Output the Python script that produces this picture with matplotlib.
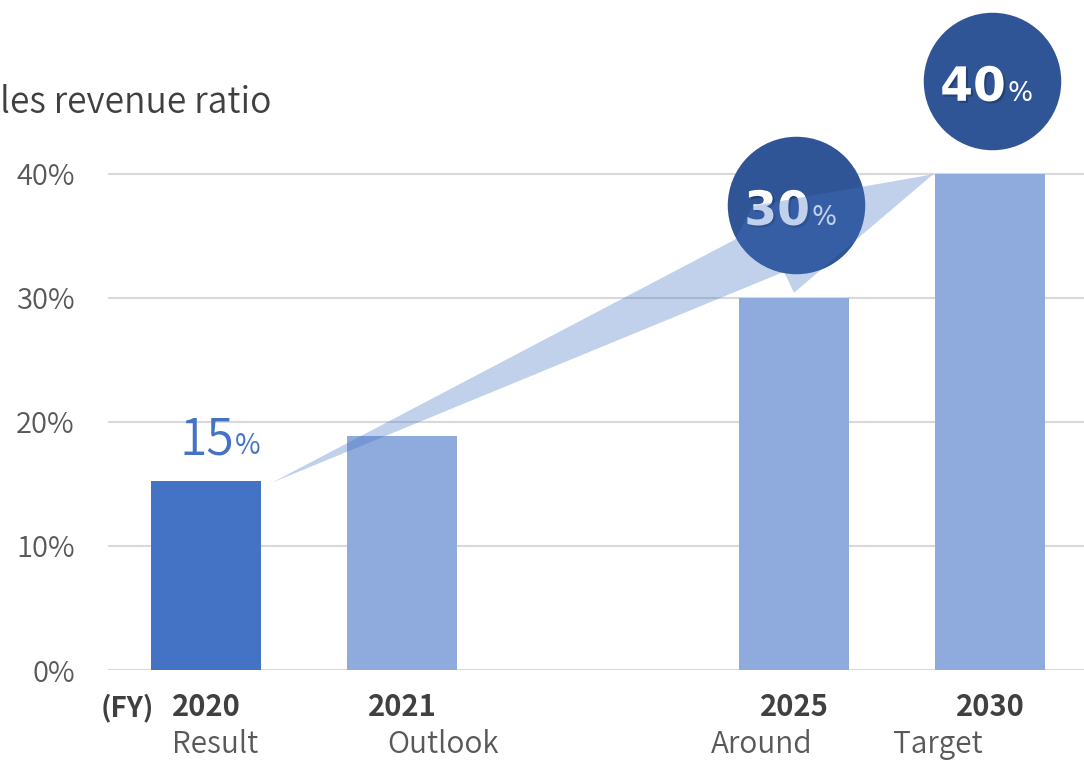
import numpy as np
import matplotlib
matplotlib.use('Agg')
import matplotlib.pyplot as plt
import matplotlib.patheffects as pe
from matplotlib.patches import Polygon

plt.rcParams['font.family'] = ['Noto Sans CJK JP', 'DejaVu Sans']

# data
years = ['2020', '2021', '2025', '2030']
stages = ['Result', 'Outlook', 'Around', 'Target']
ratio = [15.2, 18.9, 30.0, 40.0]
yticks = [0, 10, 20, 30, 40]

# layout (2022-2024 slot left empty)
slots = [0, 1, 3, 4]
bar_w = 0.56
bar_colors = ['#4472C4', '#8FAADC', '#8FAADC', '#8FAADC']
stage_dx = [6.5, 29.5, -23, -37.5]   # points, sub label shift
grey = '#595959'
dark = '#2F5597'
thin = 350

fig = plt.figure(figsize=(10.84, 7.61), dpi=100)
ax = fig.add_axes([108 / 1084, 91 / 761, 976 / 1084, 670 / 761])

ax.bar(slots, ratio, width=bar_w, color=bar_colors, zorder=2)

ax.set_xlim(-0.5, 4.48)
ax.set_ylim(0, 54.0)
ax.set_yticks(yticks)
ax.set_yticklabels([f'{t}%' for t in yticks], fontsize=21, color=grey, fontweight=thin)
ax.tick_params(axis='y', length=0, pad=24)
ax.set_xticks([])
ax.yaxis.grid(True, color='#D9D9D9', lw=1.5, zorder=0)
for s in ax.spines.values():
    s.set_visible(False)

# category labels under the axis
for i, x in enumerate(slots):
    ax.annotate(years[i], xy=(x, 0), xycoords=('data', 'axes fraction'),
                xytext=(0, -27), textcoords='offset points', ha='center', va='center',
                fontsize=21, fontweight='bold', color='#404040')
    ax.annotate(stages[i], xy=(x, 0), xycoords=('data', 'axes fraction'),
                xytext=(stage_dx[i], -64.5), textcoords='offset points', ha='center', va='bottom',
                fontsize=21.5, color=grey, fontweight=thin)
ax.annotate('(FY)', xy=(slots[0], 0), xycoords=('data', 'axes fraction'),
            xytext=(-57, -27), textcoords='offset points', ha='center', va='center',
            fontsize=20, fontweight='bold', color='#404040')

fig.text(0.0, 1 - 113 / 761, 'les revenue ratio', fontsize=25.5, color='#404040',
         va='baseline', ha='left', fontweight=thin)

# 15% label on the first bar
ax.annotate('15', xy=(slots[0], ratio[0]), xytext=(20, 19.5), textcoords='offset points',
            ha='right', va='baseline', fontsize=36, color='#4472C4', fontweight=thin)
ax.annotate('%', xy=(slots[0], ratio[0]), xytext=(20.5, 19.5), textcoords='offset points',
            ha='left', va='baseline', fontsize=20, color='#4472C4')

# growth wedge, built from the bars
x0, v0 = slots[0], ratio[0]
x2, v2 = slots[2], ratio[2]
x3, v3 = slots[3], ratio[3]
wedge = [
    (x0 + bar_w / 2 + 0.057, v0 - 0.1),
    (x2 - 0.30, v2 + 4.7),
    (x2 - 0.21, v2 + 7.4),
    (x3 - bar_w / 2 - 0.01, v3 - 0.05),
    (x2, v2 + 0.4),
    (x2 - 0.05, v2 + 2.1),
]

# circles with labels
shadow = [pe.withSimplePatchShadow(offset=(1.5, -1.5), alpha=0.45, shadow_rgbFace='#1a2a4a')]
for i in (2, 3):
    cx, cy = slots[i], ratio[i] + 7.5
    ax.scatter([cx + 0.012], [cy], s=9800, color=dark, zorder=3, linewidths=0)
    ax.annotate(f'{ratio[i]:.0f}', xy=(cx, cy), xytext=(11.5, -14.5), textcoords='offset points',
                ha='right', va='baseline', fontsize=34, fontweight='bold', color='white',
                family='DejaVu Sans', path_effects=shadow, zorder=4)
    ax.annotate('%', xy=(cx, cy), xytext=(13, -14.5), textcoords='offset points',
                ha='left', va='baseline', fontsize=19, color='white',
                family='DejaVu Sans', zorder=4)

ax.add_patch(Polygon(wedge, closed=True, facecolor='#4472C4', alpha=0.33, lw=0, zorder=5))

fig.savefig('out.png', dpi=100)
